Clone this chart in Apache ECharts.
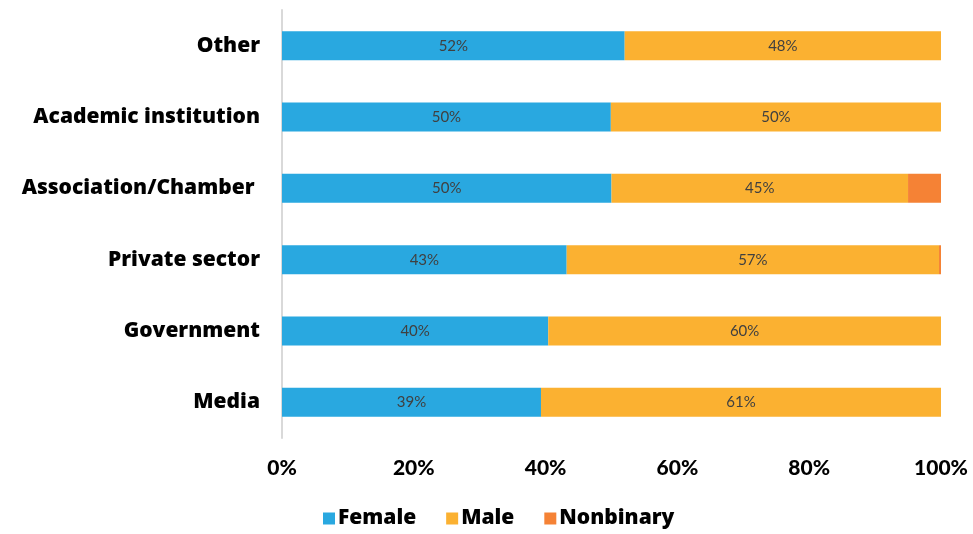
<!DOCTYPE html>
<html><head><meta charset="utf-8">
<script src="https://cdn.jsdelivr.net/npm/echarts@6/dist/echarts.min.js"></script>
<style>html,body{margin:0;padding:0;background:#fff}#c{width:973px;height:534px}</style>
</head><body><div id="c"></div>
<script>
const categories = ['Media', 'Government', 'Private sector', 'Association/Chamber ', 'Academic institution', 'Other'];
const female = [39.3, 40.4, 43.2, 50, 49.9, 52];
const male = [60.7, 59.6, 56.5, 45, 50.1, 48];
const nonbinary = [0, 0, 0.3, 5, 0, 0];
const xTicks = [0, 20, 40, 60, 80, 100];

const chart = echarts.init(document.getElementById('c'));
const font = 'Open Sans';
const lbl = {
  show: true, position: 'inside', color: '#404040', fontFamily: 'Lato', fontSize: 15,
  formatter: p => Math.round(p.value) + '%'
};
chart.setOption({
  animation: false,
  grid: { left: 282, right: 32, top: 10, bottom: 96 },
  xAxis: {
    type: 'value', min: 0, max: 100, interval: 20,
    axisLine: { show: false }, axisTick: { show: false }, splitLine: { show: false },
    axisLabel: { formatter: v => v + '%', color: '#000', fontFamily: 'Lato', fontWeight: 900, fontSize: 21, margin: 20 }
  },
  yAxis: {
    type: 'category', data: categories,
    axisLine: { show: true, lineStyle: { color: '#d9d9d9', width: 2 } },
    axisTick: { show: false },
    axisLabel: { color: '#000', fontFamily: font, fontWeight: 800, fontSize: 21, margin: 22, padding: [4, 0, 0, 0] }
  },
  legend: {
    bottom: 0, left: 318, itemWidth: 12, itemHeight: 12, itemGap: 30,
    icon: 'rect',
    textStyle: { color: '#000', fontFamily: font, fontWeight: 800, fontSize: 21, padding: [0, 0, 0, -2] },
    data: ['Female', 'Male', 'Nonbinary']
  },
  series: [
    { name: 'Female', type: 'bar', stack: 's', data: female, barWidth: 29, itemStyle: { color: '#29A8E0' }, label: lbl },
    { name: 'Male', type: 'bar', stack: 's', data: male, barWidth: 29, itemStyle: { color: '#FBB131' }, label: lbl },
    { name: 'Nonbinary', type: 'bar', stack: 's', data: nonbinary, barWidth: 29, itemStyle: { color: '#F58235' }, label: { show: false } }
  ]
});
</script></body></html>
